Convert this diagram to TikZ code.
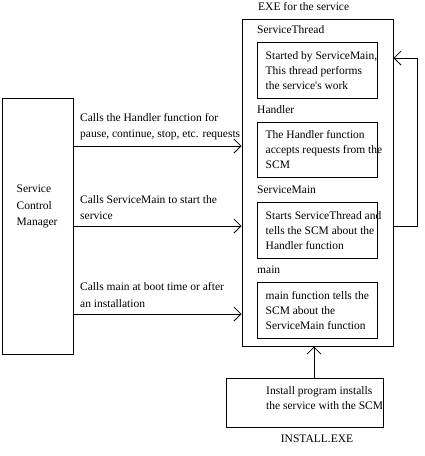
\documentclass[tikz,border=0pt]{standalone}
\usepackage{fontspec}
\setmainfont{Liberation Serif}
\usetikzlibrary{arrows.meta}
\begin{document}
\begin{tikzpicture}[x=1pt,y=-1pt,
  box/.style={draw,line width=1pt,inner sep=0pt},
  txt/.style={anchor=west,inner sep=0pt,align=left,font=\fontsize{11.5}{15}\selectfont},
  ltxt/.style={anchor=west,inner sep=0pt,align=left,font=\fontsize{11.5}{16.5}\selectfont},
  arr/.style={line width=1pt,-{Straight Barb[length=7pt,width=14pt,line width=0.8pt]}}]
\useasboundingbox (0,0) rectangle (424,456);
% boxes
\node[box,minimum width=151pt,minimum height=327pt] (exe) at (317.5,182.5) {};
\node[box,minimum width=120pt,minimum height=56pt] (b1) at (317,70) {};
\node[box,minimum width=120pt,minimum height=55pt] (b2) at (317,149.5) {};
\node[box,minimum width=120pt,minimum height=56pt] (b3) at (317,230) {};
\node[box,minimum width=120pt,minimum height=56pt] (b4) at (317,310) {};
\node[box,minimum width=71pt,minimum height=256pt] (scm) at (37.5,226) {};
\node[box,minimum width=157pt,minimum height=49pt] (inst) at (304.5,402.5) {};
% labels
\node[txt] (lexe) at (258,7) {EXE for the service};
\node[txt] (lst) at (257,30) {ServiceThread};
\node[txt] (lh) at (257,110) {Handler};
\node[txt] (lsm) at (257,190) {ServiceMain};
\node[txt] (lm) at (257,270) {main};
\node[txt] (t1) at (265.5,71) {Started by ServiceMain,\\This thread performs\\the service\textquotesingle s work};
\node[txt] (t2) at (265.5,150) {The Handler function\\accepts requests from the\\SCM};
\node[txt] (t3) at (265.5,231) {Starts ServiceThread and\\tells the SCM about the\\Handler function};
\node[txt] (t4) at (265.5,310.5) {main function tells the\\SCM about the\\ServiceMain function};
\node[ltxt] (tscm) at (16.5,206.5) {Service\\Control\\Manager};
\node[ltxt] (a1) at (80,126.5) {Calls the Handler function for\\pause, continue, stop, etc. requests};
\node[ltxt] (a2) at (80,207.5) {Calls ServiceMain to start the\\service};
\node[ltxt] (a3) at (80,295) {Calls main at boot time or after\\an installation};
\node[txt] (ti) at (266,398) {Install program installs\\the service with the SCM};
\node[txt,anchor=center] (tie) at (317,439) {INSTALL.EXE};
% connectors
\draw[arr] (scm.east |- 0,146) -- (exe.west |- 0,146);
\draw[arr] (scm.east |- 0,226) -- (exe.west |- 0,226);
\draw[arr] (scm.east |- 0,314) -- (exe.west |- 0,314);
\draw[arr] (inst.north -| 314,0) -- (exe.south -| 314,0);
\coordinate (c1) at (417,226);
\coordinate (c2) at (417,58);
\draw[arr] (exe.east |- c1) -- (c1) -- (c2) -- (exe.east |- c2);
\end{tikzpicture}
\end{document}
